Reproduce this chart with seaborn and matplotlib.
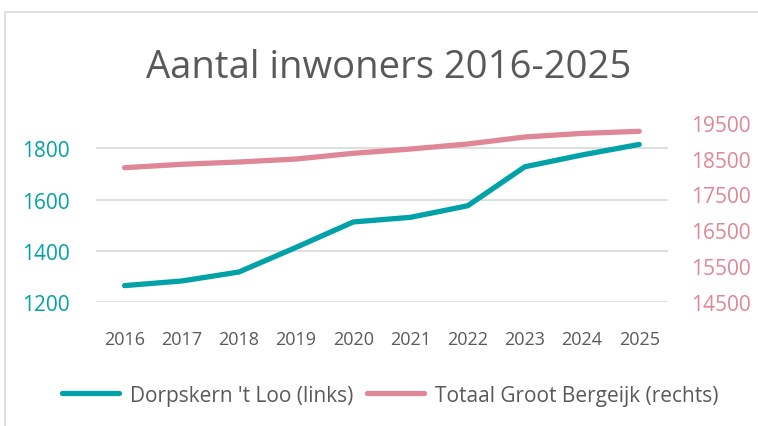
import numpy as np
import pandas as pd
import matplotlib
matplotlib.use('Agg')
import matplotlib.pyplot as plt
import matplotlib.patches as patches
import seaborn as sns

# data
years = ['2016', '2017', '2018', '2019', '2020', '2021', '2022', '2023', '2024', '2025']
loo = [1265, 1283, 1318, 1414, 1513, 1531, 1576, 1728, 1774, 1815]
bergeijk = [18245, 18340, 18404, 18487, 18646, 18765, 18905, 19100, 19200, 19258]

teal = '#00a2a8'
pink = '#df8796'
grey_text = '#595959'

sns.set_style('white')
plt.rcParams['font.family'] = ['Open Sans', 'DejaVu Sans']

df = pd.DataFrame({'jaar': years, 'loo': loo, 'bergeijk': bergeijk})

fig = plt.figure(figsize=(7.58, 4.27), dpi=100)
ax = fig.add_axes([0.1266, 0.2897, 0.7544, 0.4208])
ax2 = ax.twinx()

sns.lineplot(data=df, x='jaar', y='loo', ax=ax, color=teal, linewidth=3.8,
             solid_capstyle='round', label="Dorpskern 't Loo (links)", legend=False)
sns.lineplot(data=df, x='jaar', y='bergeijk', ax=ax2, color=pink, linewidth=3.8,
             solid_capstyle='round', label='Totaal Groot Bergeijk (rechts)', legend=False)

# left axis
ax.set_ylim(1200, 1900)
ax.set_yticks([1200, 1400, 1600, 1800])
ax.set_xlim(-0.5, 9.5)
ax.grid(axis='y', color='#d9d9d9', linewidth=1.2)
ax.grid(axis='x', visible=False)
ax.tick_params(axis='y', colors=teal, labelsize=15, length=0, pad=19)
ax.tick_params(axis='x', colors=grey_text, labelsize=13, length=0, pad=20)
ax.set_xlabel('')
ax.set_ylabel('')

# right axis
ax2.set_ylim(14500, 19500)
ax2.set_yticks(np.arange(14500, 19501, 1000))
ax2.grid(False)
ax2.tick_params(axis='y', colors=pink, labelsize=15, length=0, pad=17)
ax2.set_ylabel('')

for a in (ax, ax2):
    for s in a.spines.values():
        s.set_visible(False)

fig.text(0.513, 0.84, 'Aantal inwoners 2016-2025', ha='center', va='center',
         fontsize=27.5, color=grey_text)

h1, l1 = ax.get_legend_handles_labels()
h2, l2 = ax2.get_legend_handles_labels()
fig.legend(h1 + h2, l1 + l2, loc='center', bbox_to_anchor=(0.515, 0.072), ncol=2,
           frameon=False, fontsize=15, labelcolor=grey_text, handlelength=2.74,
           columnspacing=0.67, handletextpad=0.53)

# outer chart border
fig.patches.append(patches.Rectangle((5 / 758, -0.05), 1.0, 1 - 13 / 427 + 0.05,
                                     transform=fig.transFigure, fill=False,
                                     edgecolor='#d9d9d9', linewidth=1.2))

fig.savefig('out.png', dpi=100)
